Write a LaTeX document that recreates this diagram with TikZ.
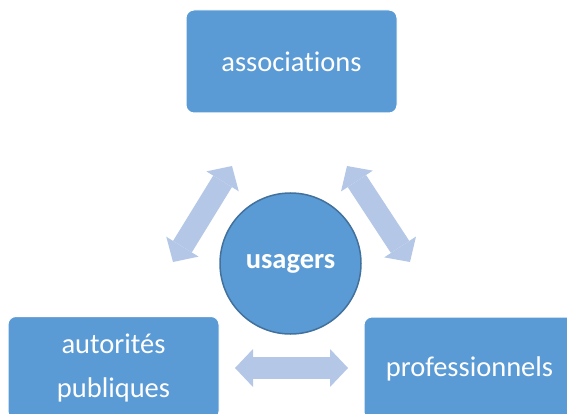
\documentclass[tikz,border=0pt]{standalone}
\usepackage{fontspec}
\setmainfont[Ligatures={NoCommon}]{Carlito}
\usetikzlibrary{arrows.meta}
\definecolor{boxblue}{HTML}{5B9BD5}
\definecolor{circborder}{HTML}{41719C}
\definecolor{arrblue}{HTML}{B4C7E7}
\tikzset{
  box/.style={fill=boxblue, draw=white, line width=1pt, rounded corners=8pt,
    minimum width=211pt, minimum height=103pt, inner sep=0pt, text=white,
    align=center, font=\fontsize{28.5}{44}\selectfont},
  hub/.style={circle, fill=boxblue, draw=circborder, line width=1.5pt,
    minimum size=141pt, inner sep=0pt, text=white,
    font=\fontsize{28.5}{34}\selectfont\bfseries},
  link/.style={draw=arrblue, line width=22pt,
    {Triangle[length=18pt,width=38pt,line width=0pt]}-{Triangle[length=18pt,width=38pt,line width=0pt]}}
}
\begin{document}
\begin{tikzpicture}[x=1pt,y=-1pt]
\useasboundingbox (0,0) rectangle (567,414);
\node[box] (assoc) at (291.5,61.5) {associations};
\node[box] (auto) at (113.5,368) {autorités\\publiques};
\node[box] (pro) at (469.5,368.5) {professionnels};
\node[hub] (usagers) at (290.5,263.5) {\raisebox{-4pt}{usagers}};
\coordinate (l1) at (173,262);
\coordinate (l2) at (232,166);
\coordinate (r1) at (347,166);
\coordinate (r2) at (410,262);
\coordinate (b1) at (235,368);
\coordinate (b2) at (348,368);
\draw[link] (l1) -- (l2);
\draw[link] (r1) -- (r2);
\draw[link] (b1) -- (b2);
\end{tikzpicture}
\end{document}
